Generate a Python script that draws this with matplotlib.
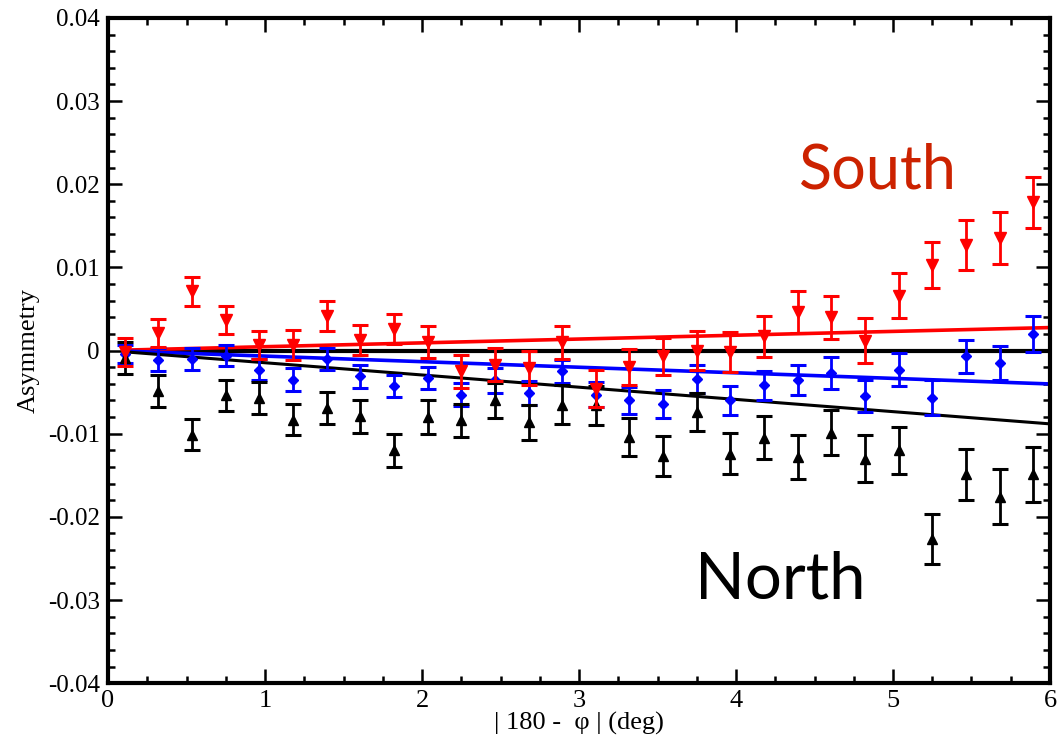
import matplotlib
matplotlib.use("Agg")
import matplotlib.pyplot as plt
from matplotlib.ticker import MultipleLocator

# bin centres of |180 - phi| (deg)
dphi = [0.107, 0.321, 0.536, 0.750, 0.964, 1.179, 1.393, 1.607, 1.821, 2.036,
        2.250, 2.464, 2.679, 2.893, 3.107, 3.321, 3.536, 3.750, 3.964, 4.179,
        4.393, 4.607, 4.821, 5.036, 5.250, 5.464, 5.679, 5.893]

# South arm
south = [-0.0002, 0.0021, 0.0071, 0.0037, 0.0007, 0.0007, 0.0042, 0.0013, 0.0026, 0.0010,
         -0.0025, -0.0017, -0.0021, 0.0010, -0.0046, -0.0020, -0.0007, 0.0000, -0.0002, 0.0017,
         0.0046, 0.0040, 0.0012, 0.0066, 0.0103, 0.0127, 0.0135, 0.0178]
south_err = [0.0017, 0.0017, 0.0018, 0.0017, 0.0017, 0.0018, 0.0018, 0.0018, 0.0018, 0.0019,
             0.0020, 0.0020, 0.0020, 0.0020, 0.0022, 0.0022, 0.0022, 0.0023, 0.0024, 0.0025,
             0.0025, 0.0026, 0.0027, 0.0027, 0.0028, 0.0030, 0.0031, 0.0031]

# combined
combined = [-0.0004, -0.0011, -0.0010, -0.0006, -0.0023, -0.0035, -0.0010, -0.0031, -0.0043, -0.0033,
            -0.0053, -0.0036, -0.0051, -0.0025, -0.0053, -0.0060, -0.0064, -0.0034, -0.0060, -0.0042,
            -0.0036, -0.0027, -0.0055, -0.0023, -0.0057, -0.0007, -0.0015, 0.0020]
combined_err = [0.0011, 0.0014, 0.0013, 0.0013, 0.0013, 0.0014, 0.0013, 0.0014, 0.0013, 0.0013,
                0.0014, 0.0015, 0.0014, 0.0014, 0.0015, 0.0016, 0.0017, 0.0017, 0.0017, 0.0017,
                0.0018, 0.0019, 0.0019, 0.0020, 0.0021, 0.0020, 0.0021, 0.0022]

# North arm
north = [-0.0009, -0.0049, -0.0101, -0.0054, -0.0057, -0.0083, -0.0069, -0.0079, -0.0120, -0.0080,
         -0.0084, -0.0060, -0.0086, -0.0065, -0.0066, -0.0104, -0.0127, -0.0074, -0.0124, -0.0105,
         -0.0128, -0.0099, -0.0130, -0.0120, -0.0227, -0.0149, -0.0176, -0.0149]
north_err = [0.0019, 0.0019, 0.0019, 0.0019, 0.0019, 0.0019, 0.0019, 0.0020, 0.0020, 0.0020,
             0.0020, 0.0021, 0.0021, 0.0023, 0.0023, 0.0023, 0.0024, 0.0023, 0.0025, 0.0026,
             0.0027, 0.0027, 0.0028, 0.0028, 0.0030, 0.0031, 0.0033, 0.0033]

# linear fits A = slope * dphi
fit_range = [0.1, 6.0]
slope_south = 0.00046
slope_combined = -0.00067
slope_north = -0.00147

yticks = [-0.04, -0.03, -0.02, -0.01, 0.0, 0.01, 0.02, 0.03, 0.04]
ytick_labels = ["-0.04", "-0.03", "-0.02", "-0.01", "0", "0.01", "0.02", "0.03", "0.04"]

fig = plt.figure(figsize=(10.62, 7.45), dpi=100)
ax = fig.add_axes([0.1017, 0.083, 0.887, 0.893])

serif = "Liberation Serif"

# zero line and fits
ax.plot(fit_range, [0, 0], color="black", lw=3.0, zorder=2)
ax.plot(fit_range, [slope_south * x for x in fit_range], color="#ff0000", lw=2.6, zorder=2)
ax.plot(fit_range, [slope_combined * x for x in fit_range], color="#0000ff", lw=2.6, zorder=2)
ax.plot(fit_range, [slope_north * x for x in fit_range], color="black", lw=2.2, zorder=2)

eb = dict(ls="none", elinewidth=2.0, capsize=5.5, capthick=2.2)
ax.errorbar(dphi, combined, yerr=combined_err, fmt="D", ms=5.5, color="#0000ff", zorder=3, **eb)
ax.errorbar(dphi, north, yerr=north_err, fmt="^", ms=7.5, color="black", zorder=4, **eb)
ax.errorbar(dphi, south, yerr=south_err, fmt="v", ms=8.5, color="#ff0000", zorder=5, **eb)

ax.text(4.4, 0.0195, "South", color="#cc2200", fontsize=44, family="Lato", zorder=6)
ax.text(3.74, -0.0298, "North", color="black", fontsize=47, family="Lato", zorder=6)

ax.set_xlim(0, 6)
ax.set_ylim(-0.04, 0.04)
ax.xaxis.set_major_locator(MultipleLocator(1))
ax.xaxis.set_minor_locator(MultipleLocator(0.25))
ax.set_yticks(yticks)
ax.set_yticklabels(ytick_labels)
ax.yaxis.set_minor_locator(MultipleLocator(0.002))

ax.tick_params(which="both", direction="in", top=True, right=True, width=1.8, colors="black")
ax.tick_params(which="major", length=10)
ax.tick_params(which="minor", length=5)
ax.tick_params(axis="y", labelsize=18, pad=6)
ax.tick_params(axis="x", labelsize=19, pad=5)
for lbl in ax.get_xticklabels() + ax.get_yticklabels():
    lbl.set_family(serif)

for side in ax.spines.values():
    side.set_linewidth(3)

ax.set_xlabel("| 180 -  \u03c6 | (deg)", family=serif, fontsize=19, labelpad=0)
ax.set_ylabel("Asymmetry", family=serif, fontsize=19, labelpad=6)

fig.savefig("out.png", dpi=100)
